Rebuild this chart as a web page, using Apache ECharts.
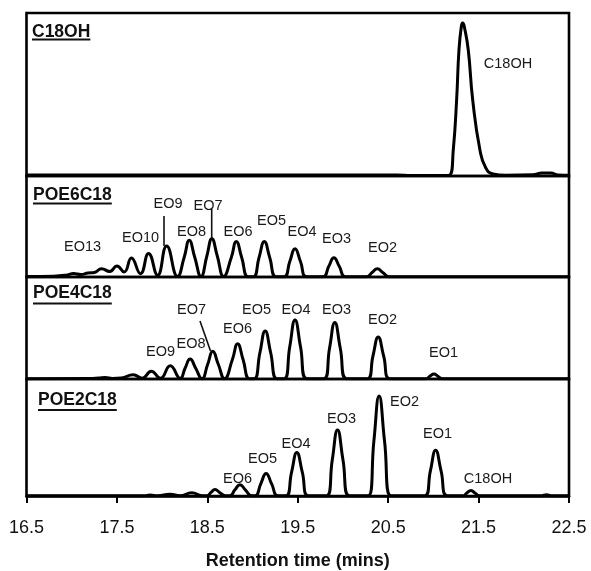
<!DOCTYPE html>
<html>
<head>
<meta charset="utf-8">
<script src="https://cdn.jsdelivr.net/npm/echarts@6/dist/echarts.min.js"></script>
<style>
  html, body { margin: 0; padding: 0; background: #fff; }
  #chart { width: 591px; height: 571px; }
</style>
</head>
<body>
<div id="chart"></div>
<script>
// retention time (min) vs detector response (arbitrary units)
const c18ohTrace = [
  [16.5, 1], [20.6, 1], [20.75, 0.5], [21.1, 0.5], [21.18, 1], [21.22, 26], [21.257, 76],
  [21.283, 126], [21.31, 150], [21.325, 153], [21.345, 148], [21.386, 126], [21.435, 76],
  [21.515, 26], [21.58, 8], [21.66, 2], [21.8, 0.8], [22.1, 1.2], [22.2, 3], [22.3, 3],
  [22.38, 1], [22.5, 0.8]
]
const poe6Trace = [
  [16.5, 0.5], [16.8, 0.8], [16.95, 2], [17.02, 3.5], [17.1, 2.5], [17.18, 4], [17.25, 4.5],
  [17.33, 8.3], [17.42, 5.5], [17.5, 11], [17.58, 5], [17.66, 19], [17.76, 3.3], [17.85, 23.5],
  [17.95, 1.7], [18.05, 31], [18.17, 0.5],
  [18.245, 20], [18.30, 36.7], [18.36, 20], [18.43, 0.5],
  [18.495, 21], [18.55, 38.3], [18.61, 21], [18.68, 0.5],
  [18.765, 19.5], [18.82, 35.5], [18.88, 19.5], [18.95, 0.3],
  [19.01, 0.3], [19.072, 19.5], [19.13, 35.5], [19.19, 19.5], [19.26, 0.3],
  [19.35, 0.3], [19.412, 15.5], [19.47, 28.2], [19.53, 15.5], [19.6, 0.3],
  [19.78, 0.3], [19.842, 10.5], [19.90, 19.2], [19.96, 10.5], [20.03, 0.3],
  [20.26, 0.3], [20.322, 4.5], [20.38, 8.2], [20.44, 4.5], [20.51, 0.3],
  [22.5, 0.3]
]
const poe4Trace = [
  [16.5, 0.3], [17.2, 0.5], [17.3, 1], [17.37, 1.5], [17.45, 0.5], [17.55, 1],
  [17.68, 4.3], [17.78, 0.8], [17.88, 7.7], [17.98, 0.8], [18.09, 13.3], [18.2, 0.5],
  [18.255, 11], [18.31, 20], [18.37, 11], [18.44, 0.3],
  [18.505, 15], [18.56, 27.7], [18.62, 15], [18.69, 0.3],
  [18.777, 19.5], [18.835, 35.3], [18.895, 19.5], [18.965, 0.3],
  [19.02, 0.3], [19.082, 26.5], [19.14, 48], [19.2, 26.5], [19.27, 0.3],
  [19.35, 0.3], [19.412, 32.5], [19.47, 59], [19.53, 32.5], [19.6, 0.3],
  [19.79, 0.3], [19.852, 31], [19.91, 56.6], [19.97, 31], [20.04, 0.3],
  [20.27, 0.3], [20.332, 23], [20.39, 42], [20.45, 23], [20.52, 0.3],
  [20.92, 0.3], [20.96, 2.8], [21.007, 5], [21.05, 2.8], [21.1, 0.3],
  [22.5, 0.3]
]
const poe2Trace = [
  [16.5, 0.3], [17.8, 0.3], [17.866, 1], [17.95, 0.3], [18.087, 1.7], [18.2, 0.3],
  [18.327, 3.3], [18.45, 0.3],
  [18.5, 0.3], [18.54, 3.7], [18.585, 6.7], [18.635, 3.7], [18.7, 0.3],
  [18.75, 0.3], [18.805, 6.4], [18.861, 11.7], [18.92, 6.4], [18.99, 0.3],
  [19.03, 0.3], [19.092, 12.8], [19.15, 23.3], [19.21, 12.8], [19.28, 0.3],
  [19.37, 0.3], [19.432, 24.8], [19.49, 45], [19.55, 24.8], [19.62, 0.3],
  [19.82, 0.3], [19.882, 37.5], [19.94, 68.3], [20.0, 37.5], [20.07, 0.3],
  [20.28, 0.3], [20.342, 56.8], [20.40, 103.3], [20.46, 56.8], [20.53, 0.3],
  [20.905, 0.3], [20.967, 26], [21.025, 47.3], [21.085, 26], [21.155, 0.3],
  [21.33, 0.3], [21.37, 3.1], [21.416, 5.7], [21.46, 3.1], [21.51, 0.3],
  [22.2, 0.3], [22.25, 1.2], [22.3, 0.3], [22.5, 0.3]
]

const panelNames = ['C18OH', 'POE6C18', 'POE4C18', 'POE2C18']
const traces = [c18ohTrace, poe6Trace, poe4Trace, poe2Trace]
const xTickLabels = ['16.5', '17.5', '18.5', '19.5', '20.5', '21.5', '22.5']
const xAxisTitle = 'Retention time (mins)'

// peak labels per panel
const peakLabels = [
  ['C18OH'],
  ['EO13', 'EO10', 'EO9', 'EO7', 'EO8', 'EO6', 'EO5', 'EO4', 'EO3', 'EO2'],
  ['EO9', 'EO8', 'EO7', 'EO6', 'EO5', 'EO4', 'EO3', 'EO2', 'EO1'],
  ['EO6', 'EO5', 'EO4', 'EO3', 'EO2', 'EO1', 'C18OH']
]

// layout (pixels)
const panelBoxes = [[13, 163], [176, 101], [277, 102], [379, 121]]
const titleSpots = [[32, 32, 39.5], [33, 195, 203.5], [33, 293.5, 303.5], [38, 400, 410]]
const labelSpots = [
  [[508, 64]],
  [[82.5, 246.5], [140.5, 238], [168, 203.5], [208, 206], [191.5, 231.5], [238, 231.5],
   [271.5, 220.5], [302, 231.5], [336.5, 239], [382.5, 247.5]],
  [[160.5, 351.5], [191, 344], [191.5, 310], [237.5, 328.5], [256.5, 310], [296, 310],
   [336.5, 309.5], [382.5, 320], [443.5, 352.5]],
  [[237.5, 478.5], [262.5, 458.5], [296, 443.5], [341.5, 418.5], [404.5, 401.5],
   [437.5, 433.5], [488, 478.5]]
]
const leaderLines = [[164, 216, 164, 246], [211.7, 209, 211.7, 238], [200, 321, 210.5, 351]]

const font = '"Liberation Sans", Arial, Helvetica, sans-serif'
const chart = echarts.init(document.getElementById('chart'))

const grids = panelBoxes.map(b => ({
  left: 26.5, width: 542.5, top: b[0], height: b[1],
  show: true, borderColor: '#000', borderWidth: 2.6, backgroundColor: 'transparent'
}))

const xAxes = panelBoxes.map((b, i) => {
  const last = i === panelBoxes.length - 1
  return {
    type: 'value', gridIndex: i, min: 16.5, max: 22.5, interval: 1,
    show: last,
    splitLine: { show: false },
    axisLine: { show: last, lineStyle: { color: '#000', width: 2.6 } },
    axisTick: { show: last, length: 7, lineStyle: { color: '#000', width: 2 } },
    axisLabel: {
      show: last, margin: 23, fontSize: 18, color: '#111', fontFamily: font,
      formatter: v => xTickLabels[Math.round(v - 16.5)]
    },
    name: last ? xAxisTitle : '',
    nameLocation: 'middle', nameGap: 56,
    nameTextStyle: { fontSize: 18, fontWeight: 'bold', color: '#111', fontFamily: font }
  }
})

const yAxes = panelBoxes.map((b, i) => ({
  type: 'value', gridIndex: i, min: 0, max: b[1], show: false, splitLine: { show: false }
}))

const series = traces.map((t, i) => ({
  type: 'line', xAxisIndex: i, yAxisIndex: i, data: t,
  showSymbol: false, symbol: 'none', smooth: 0.5,
  lineStyle: { color: '#000', width: 3 }, silent: true, animation: false
}))

// titles with underline, peak labels, leader lines
const measure = document.createElement('canvas').getContext('2d')
measure.font = 'bold 17.5px ' + font
const elements = []
panelNames.forEach((name, i) => {
  const s = titleSpots[i]
  elements.push({
    type: 'text', x: s[0], y: s[1], silent: true,
    style: { text: name, font: 'bold 17.5px ' + font, fill: '#111', verticalAlign: 'middle', align: 'left' }
  })
  elements.push({
    type: 'line', silent: true,
    shape: { x1: s[0], y1: s[2], x2: s[0] + measure.measureText(name).width, y2: s[2] },
    style: { stroke: '#111', lineWidth: 2 }
  })
})
peakLabels.forEach((labels, i) => {
  labels.forEach((txt, j) => {
    const p = labelSpots[i][j]
    elements.push({
      type: 'text', x: p[0], y: p[1], silent: true,
      style: { text: txt, font: '14.5px ' + font, fill: '#1a1a1a', align: 'center', verticalAlign: 'middle' }
    })
  })
})
leaderLines.forEach(l => {
  elements.push({
    type: 'line', silent: true,
    shape: { x1: l[0], y1: l[1], x2: l[2], y2: l[3] },
    style: { stroke: '#111', lineWidth: 1.6 }
  })
})

chart.setOption({
  backgroundColor: '#fff',
  animation: false,
  grid: grids,
  xAxis: xAxes,
  yAxis: yAxes,
  series: series,
  graphic: elements
})
</script>
</body>
</html>
